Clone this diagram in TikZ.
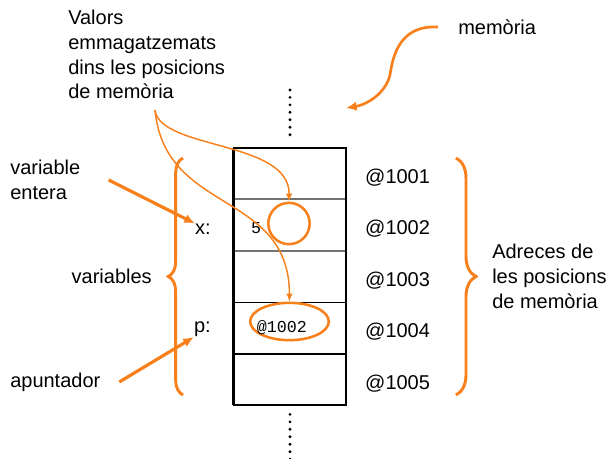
\documentclass[tikz,border=0pt]{standalone}
\usepackage{fontspec}
\setmainfont{Liberation Sans}
\setmonofont{Liberation Mono}
\usetikzlibrary{arrows.meta,shapes,positioning,calc,decorations.pathreplacing}
\definecolor{orng}{RGB}{248,128,28}
\tikzset{
cell/.style = {rectangle, minimum width=84pt, minimum height=38.25pt, inner sep=0pt},
lbl/.style = {font=\fontsize{15}{18.5}\selectfont, inner sep=0pt, align=left},
addr/.style = {font=\fontsize{15}{18}\selectfont, inner sep=0pt, yshift=-3pt},
code/.style = {font=\fontsize{12.5}{14}\selectfont\ttfamily, inner sep=0pt},
hilite/.style = {draw=orng, line width=1.9pt},
thinarrow/.style = {-{Latex[length=6pt,width=5pt]}, draw=orng, line width=1.1pt},
thickarrow/.style = {-{Latex[length=8pt,width=7pt]}, draw=orng, line width=2.4pt},
bracedeco/.style = {draw=orng, line width=2.2pt, decorate, decoration={brace, amplitude=#1}},
dots/.style = {line width=2.4pt, line cap=round, dash pattern=on 0pt off 5.6pt},
sep/.style = {line width=1.2pt}
}

\begin{document}
\begin{tikzpicture}[x=0.75pt, y=-0.75pt]
  \useasboundingbox (0,0) rectangle (612,459);

  % memory cells
  \node [cell]                  (c1) at (290,173.5) {};
  \node [cell, below=0pt of c1] (c2) {};
  \node [cell, below=0pt of c2] (c3) {};
  \node [cell, below=0pt of c3] (c4) {};
  \node [cell, below=0pt of c4] (c5) {};

  \draw [sep, black!55] (c1.south west) -- (c1.south east);
  \draw [sep, black!55] (c2.south west) -- (c2.south east);
  \draw [sep] (c3.south west) -- (c3.south east);
  \draw [sep] (c4.south west) -- (c4.south east);
  \draw [line width=1.6pt] (c1.north west) rectangle (c5.south east);
  \draw [line width=2.2pt] (c1.north west) -- (c5.south west);

  \draw [dots] ($(c1.north)+(0,-13)$) -- ($(c1.north)+(0,-58)$);
  \draw [dots] ($(c5.south)+(0,9)$) -- ($(c5.south)+(0,54)$);

  % addresses
  \node [addr, right=14pt of c1] (a1) {@1001};
  \node [addr, right=14pt of c2] (a2) {@1002};
  \node [addr, right=14pt of c3] (a3) {@1003};
  \node [addr, right=14pt of c4] (a4) {@1004};
  \node [addr, right=14pt of c5] (a5) {@1005};

  % variables and their values
  \node [lbl, left=17pt of c2, yshift=-3pt] (xname) {x:};
  \node [lbl, left=17pt of c4, yshift=-1pt] (pname) {p:};
  \node [code, anchor=west]     (five)  at ($(c2.west)+(17,3)$) {5};
  \node [hilite, circle, minimum size=31pt] (val) at (289,223.5) {};
  \node [hilite, ellipse, minimum width=59pt, minimum height=28pt] (ptr) at (289.5,321.5) {};
  \node [code]                  (ptrval) at (282,328) {@1002};

  % braces
  \coordinate (lbot) at (183,395);
  \coordinate (ltop) at (183,158);
  \coordinate (rtop) at (456,158);
  \coordinate (rbot) at (456,395);
  \draw [bracedeco=11pt] (lbot) -- (ltop);
  \draw [bracedeco=15pt] (rtop) -- (rbot);

  % labels
  \node [lbl, anchor=north west] (valtxt)  at (68,10)   {Valors\\emmagatzemats\\dins les posicions\\de memòria};
  \node [lbl, anchor=west]       (memtxt)  at (458,27)  {memòria};
  \node [lbl, anchor=north west] (varent)  at (10,160)  {variable\\entera};
  \node [lbl, anchor=east]       (vars)    at (152,276) {variables};
  \node [lbl, anchor=west]       (apunt)   at (10,382)  {apuntador};
  \node [lbl, anchor=north west] (addrtxt) at (492,244) {Adreces de\\les posicions\\de memòria};

  % arrows
  \coordinate (vsrc) at (155,110);
  \coordinate (memend) at (346,108);
  \draw [thinarrow] (vsrc) .. controls (160,150) and (290,140) .. (val.north);
  \draw [thinarrow] (vsrc) .. controls (165,215) and (289,190) .. (ptr.north);
  \draw [thickarrow] ([xshift=21pt]varent.east) -- (xname.north west);
  \draw [thickarrow] ([xshift=14pt]apunt.east) -- (pname.south west);
  \draw [thickarrow, line width=2pt] ([xshift=-15pt]memtxt.west) .. controls (400,25) and (393,55) .. (390,75) .. controls (385,95) and (365,105) .. (memend);
\end{tikzpicture}
\end{document}
